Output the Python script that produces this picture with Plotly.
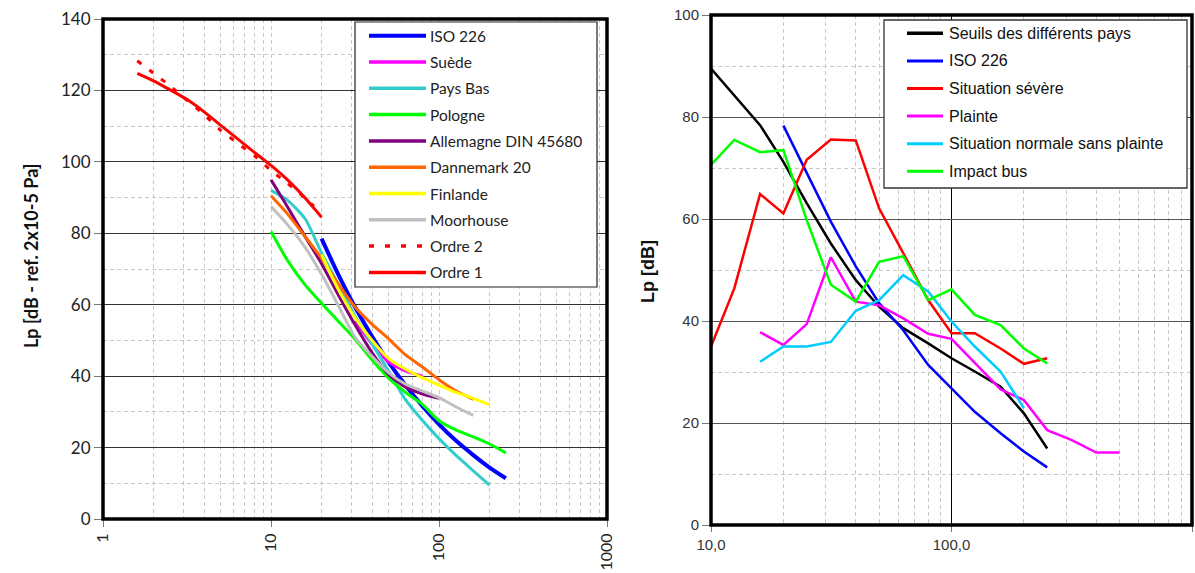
import plotly.graph_objects as go

W, H = 1195, 573

# ---------------- Left chart data (frequency [Hz], Lp [dB]) ----------------
f_iso = [20, 25, 31.5, 40, 50, 63, 80, 100, 125, 160, 200, 250]
lp_iso = [78.5, 68.7, 59.5, 51.1, 44.0, 37.5, 31.5, 26.5, 22.1, 17.9, 14.4, 11.4]
f_suede = [31.5, 40, 50, 63, 80]
lp_suede = [55.5, 49.0, 44.0, 41.5, 40.0]
f_paysbas = [10, 12.5, 16, 20, 25, 31.5, 40, 50, 63, 80, 100, 125, 160, 200]
lp_paysbas = [92.0, 89.3, 84.0, 74.5, 66.0, 57.0, 49.0, 41.5, 33.5, 27.5, 22.5, 18.0, 13.5, 9.5]
f_pologne = [10, 12.5, 16, 20, 25, 31.5, 40, 50, 63, 80, 100, 125, 160, 200, 250]
lp_pologne = [80.5, 72.5, 65.5, 60.4, 55.5, 50.5, 44.5, 39.5, 35.5, 32.0, 27.5, 25.0, 23.0, 21.0, 18.5]
f_allemagne = [10, 12.5, 16, 20, 25, 31.5, 40, 50, 63, 80, 100]
lp_allemagne = [95.0, 87.5, 79.0, 71.5, 63.0, 54.5, 46.5, 40.5, 37.0, 35.0, 33.8]
f_danemark = [10, 12.5, 16, 20, 25, 31.5, 40, 50, 63, 80, 100, 125, 160]
lp_danemark = [90.5, 85.5, 79.0, 73.0, 66.0, 59.5, 54.5, 50.5, 46.0, 42.5, 39.0, 36.0, 33.5]
f_finlande = [20, 25, 31.5, 40, 50, 63, 80, 100, 125, 160, 200]
lp_finlande = [74.0, 64.5, 56.5, 50.0, 45.0, 42.0, 39.5, 37.5, 35.5, 33.8, 32.0]
f_moorhouse = [10, 12.5, 16, 20, 25, 31.5, 40, 50, 63, 80, 100, 125, 160]
lp_moorhouse = [87.5, 82.5, 76.0, 68.5, 60.0, 51.0, 45.5, 41.0, 37.8, 35.8, 34.0, 31.5, 29.0]
f_ordre1 = [1.6, 2, 2.5, 3.15, 4, 5, 6.3, 8, 10, 12.5, 16, 20]
lp_ordre1 = [124.8, 122.7, 120.2, 117.5, 114.0, 110.3, 106.5, 102.6, 99.0, 95.0, 89.8, 84.5]
f_ordre2 = [1.6, 2, 2.5, 3.15, 4, 5, 6.3, 8, 10, 12.5, 16, 18]
lp_ordre2 = [128.3, 124.8, 121.3, 117.3, 113.2, 108.9, 105.3, 101.6, 97.6, 94.0, 89.8, 87.6]

left_names = ["ISO 226", "Suède", "Pays Bas", "Pologne", "Allemagne DIN 45680",
              "Dannemark 20", "Finlande", "Moorhouse", "Ordre 2", "Ordre 1"]
left_colors = ["#0000FF", "#FF00FF", "#33CCCC", "#00FF00", "#800080",
               "#FF6600", "#FFFF00", "#C0C0C0", "#FF0000", "#FF0000"]

# ---------------- Right chart data ----------------
f_seuils = [10, 12.5, 16, 20, 25, 31.5, 40, 50, 63, 80, 100, 125, 160, 200, 250]
lp_seuils = [89.5, 84.3, 78.4, 71.2, 63.1, 55.2, 48.0, 42.8, 38.6, 35.6, 32.7, 30.1, 27.1, 21.9, 15.0]
f_iso_r = [20, 25, 31.5, 40, 50, 63, 80, 100, 125, 160, 200, 250]
lp_iso_r = [78.3, 69.0, 59.5, 50.7, 43.5, 38.2, 31.4, 26.8, 22.2, 18.0, 14.4, 11.3]
f_severe = [10, 12.5, 16, 20, 25, 31.5, 40, 50, 63, 80, 100, 125, 160, 200, 250]
lp_severe = [35.0, 46.4, 64.9, 61.1, 71.6, 75.6, 75.4, 62.1, 53.3, 44.1, 37.6, 37.6, 34.6, 31.6, 32.7]
f_plainte = [16, 20, 25, 31.5, 40, 50, 63, 80, 100, 125, 160, 200, 250, 315, 400, 500]
lp_plainte = [37.8, 35.3, 39.4, 52.5, 43.8, 43.1, 40.5, 37.5, 36.5, 31.7, 26.6, 24.5, 18.6, 16.7, 14.2, 14.2]
f_normale = [16, 20, 25, 31.5, 40, 50, 63, 80, 100, 125, 160, 200]
lp_normale = [32.0, 35.0, 35.0, 35.9, 42.0, 44.1, 49.0, 45.8, 39.9, 35.0, 30.1, 22.9]
f_bus = [10, 12.5, 16, 20, 25, 31.5, 40, 50, 63, 80, 100, 125, 160, 200, 250]
lp_bus = [70.6, 75.5, 73.1, 73.5, 59.8, 47.1, 43.8, 51.6, 52.7, 44.1, 46.2, 41.2, 39.2, 34.6, 31.7]

right_names = ["Seuils des différents pays", "ISO 226", "Situation sévère", "Plainte",
               "Situation normale sans plainte", "Impact bus"]
right_colors = ["#000000", "#0000FF", "#FF0000", "#FF00FF", "#00CCFF", "#00FF00"]

left_x_ticks = [1, 10, 100, 1000]
left_x_text = ["1", "10", "100", "1000"]
right_x_ticks = [10, 100, 1000]
right_x_text = ["10,0", "100,0", "1000,0"]
minor_log = [m * d for d in (1, 10, 100) for m in range(2, 10)]

LFONT = "Lato"
RFONT = "Liberation Sans"

fig = go.Figure()

left_series = [
    (f_iso, lp_iso), (f_suede, lp_suede), (f_paysbas, lp_paysbas), (f_pologne, lp_pologne),
    (f_allemagne, lp_allemagne), (f_danemark, lp_danemark), (f_finlande, lp_finlande),
    (f_moorhouse, lp_moorhouse), (f_ordre2, lp_ordre2), (f_ordre1, lp_ordre1),
]
for (fx, ly), name, col in zip(left_series, left_names, left_colors):
    width = 4 if name == "ISO 226" else 3
    dash = "5px,10px" if name == "Ordre 2" else "solid"
    fig.add_trace(go.Scatter(x=fx, y=ly, mode="lines", name=name, showlegend=False,
                             line=dict(color=col, width=width, dash=dash,
                                       shape="spline", smoothing=0.6),
                             xaxis="x", yaxis="y"))

right_series = [(f_seuils, lp_seuils), (f_iso_r, lp_iso_r), (f_severe, lp_severe),
                (f_plainte, lp_plainte), (f_normale, lp_normale), (f_bus, lp_bus)]
for (fx, ly), name, col in zip(right_series, right_names, right_colors):
    fig.add_trace(go.Scatter(x=fx, y=ly, mode="lines", name=name, showlegend=False,
                             line=dict(color=col, width=2.5),
                             xaxis="x2", yaxis="y2"))

def px(x):
    return x / W

def py(y):
    return 1 - y / H

grid_dash = "4px,3px"
grid_light = "#c8c8c8"

fig.update_layout(
    template="none",
    width=W, height=H,
    margin=dict(l=0, r=0, t=0, b=0, pad=0),
    paper_bgcolor="white", plot_bgcolor="white",
    showlegend=False,
    xaxis=dict(type="log", range=[0, 3], domain=[px(103), px(607)], anchor="y",
               automargin=False,
               tickmode="array", tickvals=left_x_ticks, ticktext=left_x_text,
               tickangle=-90, ticks="outside", ticklen=7, tickcolor="#777",
               tickfont=dict(family=LFONT, size=16, color="#222"),
               showline=False,
               showgrid=True, gridcolor=grid_light, griddash=grid_dash, gridwidth=1,
               minor=dict(tickmode="array", tickvals=minor_log, showgrid=True,
                          gridcolor=grid_light, griddash=grid_dash, ticks=""),
               zeroline=False),
    yaxis=dict(range=[0, 140], domain=[py(519), py(19)], anchor="x",
               automargin=False,
               tickmode="linear", tick0=0, dtick=20,
               ticks="outside", ticklen=8, tickcolor="#777",
               tickfont=dict(family=LFONT, size=17, color="#222"),
               showline=False,
               showgrid=True, gridcolor="#333", gridwidth=1,
               minor=dict(dtick=10, showgrid=True, gridcolor=grid_light,
                          griddash=grid_dash, ticks=""),
               zeroline=False),
    xaxis2=dict(type="log", range=[1, 3], domain=[px(711), px(1192)], anchor="y2",
                automargin=False,
                tickmode="array", tickvals=right_x_ticks, ticktext=right_x_text,
                ticks="outside", ticklen=6, tickcolor="#777",
                tickfont=dict(family=RFONT, size=15, color="#333"),
                showline=False,
                showgrid=True, gridcolor="#000", gridwidth=1,
                minor=dict(tickmode="array", tickvals=minor_log, showgrid=True,
                           gridcolor=grid_light, griddash=grid_dash, ticks=""),
                zeroline=False),
    yaxis2=dict(range=[0, 100], domain=[py(525), py(15)], anchor="x2",
                automargin=False,
                tickmode="linear", tick0=0, dtick=20,
                ticks="outside", ticklen=8, tickcolor="#777",
                tickfont=dict(family=RFONT, size=15, color="#333"),
                showline=False,
                showgrid=True, gridcolor="#555", gridwidth=1.2,
                minor=dict(dtick=10, showgrid=True, gridcolor=grid_light,
                           griddash=grid_dash, ticks=""),
                zeroline=False),
)

shapes = []
annotations = []

# plot frames (thick black borders)
shapes.append(dict(type="rect", xref="x domain", yref="y domain", x0=0, x1=1, y0=0, y1=1,
                   line=dict(color="black", width=3.5), layer="above"))
shapes.append(dict(type="rect", xref="x2 domain", yref="y2 domain", x0=0, x1=1, y0=0, y1=1,
                   line=dict(color="black", width=3.5), layer="above"))

# axis titles
annotations.append(dict(x=px(18), y=py(256), xref="paper", yref="paper",
                        text="<b>Lp [dB - ref. 2x10-5 Pa]</b>", textangle=-90,
                        showarrow=False, font=dict(family=LFONT, size=18, color="#111")))
annotations.append(dict(x=px(648), y=py(271), xref="paper", yref="paper",
                        text="<b>Lp [dB]</b>", textangle=-90,
                        showarrow=False, font=dict(family=RFONT, size=18, color="#111")))

# left legend
shapes.append(dict(type="rect", xref="paper", yref="paper",
                   x0=px(355), x1=px(597), y0=py(287), y1=py(22),
                   fillcolor="white", line=dict(color="#222", width=1.2), layer="above"))
for i, (name, col) in enumerate(zip(left_names, left_colors)):
    yy = 35.7 + i * 26.3
    shapes.append(dict(type="line", xref="paper", yref="paper",
                       x0=px(369), x1=px(426), y0=py(yy), y1=py(yy),
                       line=dict(color=col, width=4 if name == "ISO 226" else 3.5,
                                 dash="5px,11px" if name == "Ordre 2" else "solid"),
                       layer="above"))
    annotations.append(dict(x=px(428), y=py(yy), xref="paper", yref="paper",
                            xanchor="left", yanchor="middle", text=name, showarrow=False,
                            font=dict(family=LFONT, size=15.5, color="#222")))

# right legend
shapes.append(dict(type="rect", xref="paper", yref="paper",
                   x0=px(884), x1=px(1187), y0=py(188), y1=py(20),
                   fillcolor="white", line=dict(color="#333", width=1.3), layer="above"))
for i, (name, col) in enumerate(zip(right_names, right_colors)):
    yy = 33.3 + i * 27.6
    shapes.append(dict(type="line", xref="paper", yref="paper",
                       x0=px(907), x1=px(943), y0=py(yy), y1=py(yy),
                       line=dict(color=col, width=3.5 if i == 0 else 3),
                       layer="above"))
    annotations.append(dict(x=px(947), y=py(yy), xref="paper", yref="paper",
                            xanchor="left", yanchor="middle", text=name, showarrow=False,
                            font=dict(family=RFONT, size=16, color="#111")))

fig.update_layout(shapes=shapes, annotations=annotations)

fig.write_html("out.html", config={"displayModeBar": False},
               post_script="document.body.style.margin='0';document.body.style.overflow='hidden';")
